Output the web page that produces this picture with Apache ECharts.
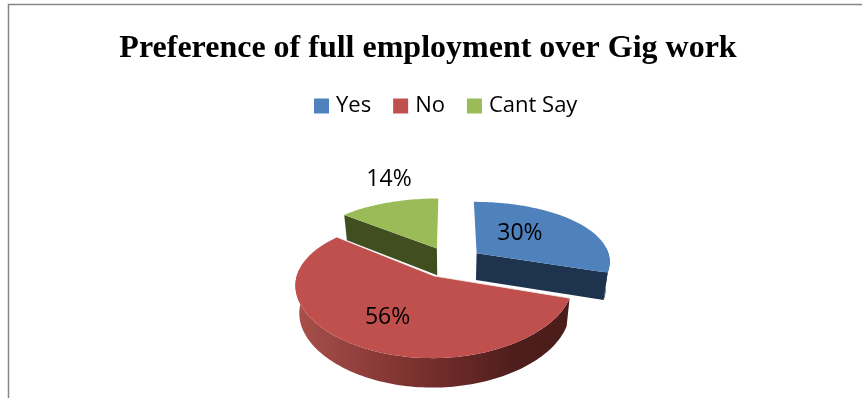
<!DOCTYPE html>
<html>
<head>
<meta charset="utf-8">
<style>html,body{margin:0;padding:0;background:#fff}#chart{width:862px;height:398px}</style>
<script src="https://cdn.jsdelivr.net/npm/echarts@6/dist/echarts.min.js"></script>
</head>
<body>
<div id="chart"></div>
<script>
// Survey shares, in percent
const categories = ['Yes', 'No', 'Cant Say'];
const shares = [30, 56, 14];
const titleText = 'Preference of full employment over Gig work';

const topColors = ['#4F81BD', '#C0504D', '#9BBB59'];
const wallColors = ['#1E334E', '#4A1C1A', '#404E20'];
// Back-to-front painting order of the slices
const paintOrder = [2, 0, 1];
// Label anchors, relative to each slice's apex, in pie radii
const labelOffsets = [[0.352, -0.376], [-0.309, 0.536], [-0.45, -1.51]];

// Perspective projection of the pie plane
const view = { cx: 450.5, cy: 262, rx: 134, ry: 62.8, perspX: 0.12, perspY: 0.17, explode: 0.245, bottomScale: 0.975 };

function project(U, V, lowered) {
  const sx = lowered ? view.bottomScale : 1;
  return [
    view.cx + sx * view.rx * U / (1 - view.perspX * V),
    view.cy + view.ry * V / (1 - view.perspY * V) + (lowered ? 27 + 2 * V : 0)
  ];
}

const total = shares.reduce((a, b) => a + b, 0);

function sliceAngles(index) {
  let before = 0;
  for (let i = 0; i < index; i++) before += shares[i];
  return [before / total * 2 * Math.PI, (before + shares[index]) / total * 2 * Math.PI];
}

function renderSlice(index) {
  return function (params, api) {
    const [a0, a1] = sliceAngles(index);
    const mid = (a0 + a1) / 2;
    const ax = view.explode * Math.sin(mid);
    const ay = -view.explode * Math.cos(mid);
    const arc = [];
    const steps = Math.max(24, Math.round((a1 - a0) * 40));
    for (let i = 0; i <= steps; i++) {
      const t = a0 + (a1 - a0) * i / steps;
      arc.push({ t, p: [ax + Math.sin(t), ay - Math.cos(t)] });
    }
    const apexTop = project(ax, ay, false);
    const apexLow = project(ax, ay, true);
    const topRing = arc.map(a => project(a.p[0], a.p[1], false));
    const frontArc = arc.filter(a => Math.cos(a.t) < 0.1);

    const children = [];
    // Radial walls are only painted when they turn towards the viewer
    if (-Math.sin(a0) > 1e-6) {
      children.push({ type: 'polygon', shape: { points: [apexTop, topRing[0], project(arc[0].p[0], arc[0].p[1], true), apexLow] }, style: { fill: wallColors[index] } });
    }
    if (Math.sin(a1) > 1e-6) {
      children.push({ type: 'polygon', shape: { points: [apexTop, topRing[steps], project(arc[steps].p[0], arc[steps].p[1], true), apexLow] }, style: { fill: wallColors[index] } });
    }
    if (frontArc.length > 1) {
      const upper = frontArc.map(a => project(a.p[0], a.p[1], false));
      const lower = frontArc.map(a => project(a.p[0], a.p[1], true)).reverse();
      const outerFill = index === 1
        ? new echarts.graphic.LinearGradient(0, 0, 1, 0, [
            { offset: 0, color: '#A8504C' },
            { offset: 0.45, color: '#7A302E' },
            { offset: 0.8, color: '#4E1E1C' },
            { offset: 1, color: '#4A1C1A' }
          ])
        : wallColors[index];
      children.push({ type: 'polygon', shape: { points: upper.concat(lower) }, style: { fill: outerFill } });
    }
    children.push({ type: 'polygon', shape: { points: [apexTop].concat(topRing) }, style: { fill: topColors[index] } });
    if (index === 1) {
      children.push({ type: 'polyline', shape: { points: [topRing[steps], apexTop, topRing[0]] }, style: { stroke: '#F4F4F4', lineWidth: 0.8, fill: 'none' } });
    }
    const off = labelOffsets[index];
    const lp = project(ax + off[0], ay + off[1], false);
    children.push({
      type: 'text',
      x: lp[0], y: lp[1] + 1,
      style: {
        text: api.value(0) + '%',
        font: '23px "Open Sans"',
        fill: '#000',
        align: 'center',
        verticalAlign: 'middle'
      }
    });
    return { type: 'group', children };
  };
}

const chart = echarts.init(document.getElementById('chart'), null, { renderer: 'canvas' });
chart.setOption({
  animation: false,
  backgroundColor: '#ffffff',
  title: {
    text: titleText,
    left: 423, top: 28, textAlign: 'center',
    textStyle: { fontFamily: '"Liberation Serif"', fontWeight: 'bold', fontSize: 32, color: '#000' }
  },
  legend: {
    data: categories,
    left: 314, top: 95, padding: 0,
    icon: 'rect', itemWidth: 15, itemHeight: 15, itemGap: 22,
    textStyle: { fontFamily: '"Open Sans"', fontSize: 22, color: '#000', padding: [0, 0, 0, 2] }
  },
  graphic: [{
    type: 'rect', silent: true, z: -1,
    shape: { x: 8.5, y: 4.5, width: 900, height: 500 },
    style: { fill: 'none', stroke: '#868686', lineWidth: 1.5 }
  }],
  series: paintOrder.map(i => ({
    type: 'custom',
    name: categories[i],
    coordinateSystem: 'none',
    z: 2 + paintOrder.indexOf(i),
    itemStyle: { color: topColors[i] },
    data: [[shares[i]]],
    renderItem: renderSlice(i)
  }))
});
</script>
</body>
</html>
